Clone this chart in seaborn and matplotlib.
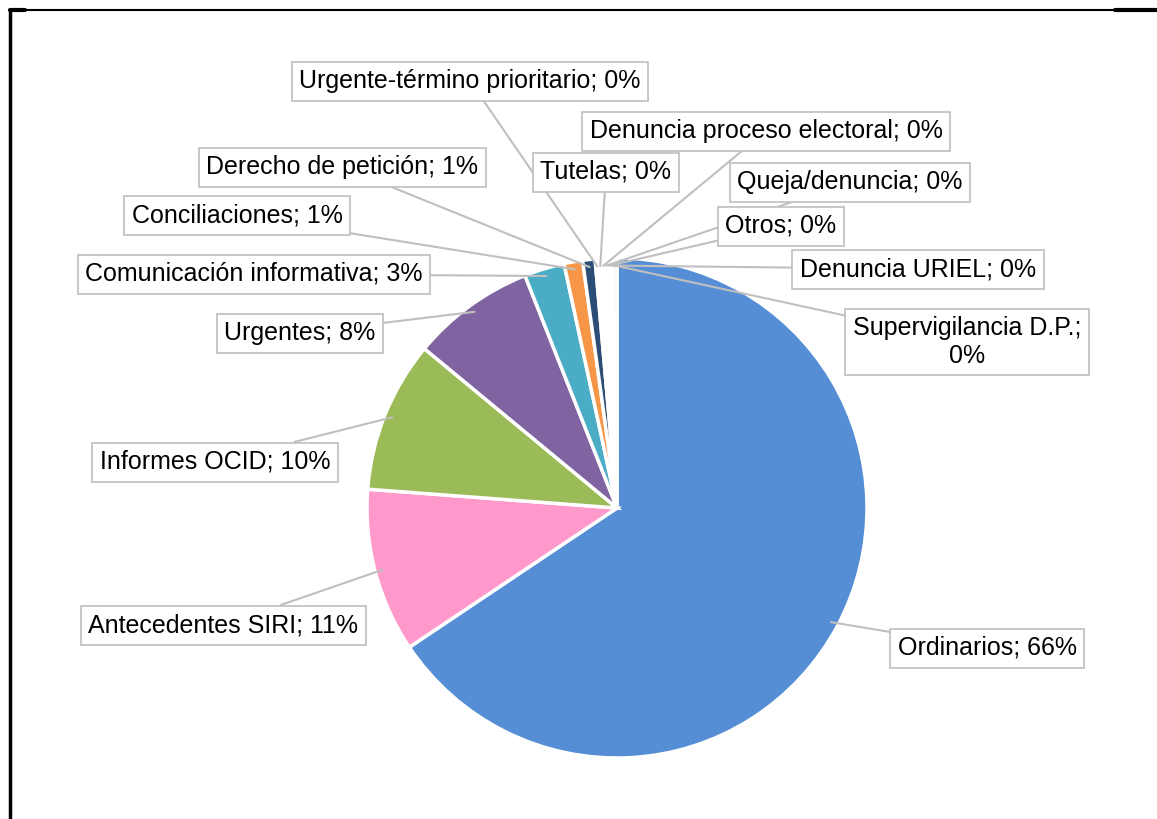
import matplotlib
matplotlib.use("Agg")
import matplotlib.pyplot as plt
import seaborn as sns
import numpy as np
from matplotlib.lines import Line2D

sns.set_theme(style="white")
plt.rcParams['font.family'] = ['Liberation Sans Narrow', 'Liberation Sans', 'DejaVu Sans']

# data (percent of total), clockwise from 12 o'clock
categories = ["Ordinarios", "Antecedentes SIRI", "Informes OCID", "Urgentes",
              "Comunicación informativa", "Conciliaciones", "Derecho de petición",
              "Urgente-término prioritario", "Tutelas", "Denuncia proceso electoral",
              "Queja/denuncia", "Otros", "Denuncia URIEL", "Supervigilancia D.P."]
values = [65.6, 10.6, 9.8, 8.0, 2.6, 1.2, 0.8, 0.2, 0.2, 0.2, 0.2, 0.2, 0.1, 0.3]
colors = ["#558ED5", "#FF99CC", "#9BBB59", "#8064A2", "#4BACC6", "#F79646", "#2C4D75",
          "#772C2A", "#EBF1DE", "#E6E0EC", "#DBEEF4", "#FDEADA", "#DCE6F2", "#F2F2F2"]

# label box centres, in pixels from top-left of the image
label_pos = [(987, 648), (223, 625), (215, 462), (300, 333), (254, 274), (237, 215),
             (342, 167), (470, 81), (606, 172), (766, 131), (850, 182), (781, 226),
             (918, 269), (967, 342)]

W, H = 1157, 819
fig = plt.figure(figsize=(W / 100, H / 100), dpi=100)
ax = fig.add_axes([0, 0, 1, 1])

cx, cy, r = 617, H - 508, 250
wedges, _ = ax.pie(values, colors=sns.color_palette(colors), startangle=90,
                   counterclock=False, center=(cx, cy), radius=r,
                   wedgeprops=dict(edgecolor="white", linewidth=2.5))
ax.set_xlim(0, W)
ax.set_ylim(0, H)
ax.set_aspect("equal")
ax.axis("off")

total = sum(values)
for w, name, v, (lx, ly) in zip(wedges, categories, values, label_pos):
    mid = np.deg2rad((w.theta1 + w.theta2) / 2)
    px = cx + r * 0.97 * np.cos(mid)
    py = cy + r * 0.97 * np.sin(mid)
    pct = round(v / total * 100)
    txt = f"{name}; {pct}%"
    if name == "Supervigilancia D.P.":
        txt = f"{name};\n{pct}%"
    ax.annotate(txt, xy=(px, py), xytext=(lx, H - ly), ha="center", va="center",
                fontsize=18, color="black", multialignment="center",
                bbox=dict(boxstyle="square,pad=0.3", fc="white", ec="#BFBFBF", lw=1.2),
                arrowprops=dict(arrowstyle="-", color="#BFBFBF", lw=1.5,
                                shrinkA=0, shrinkB=0))

# outer frame lines
fy = 1 - 10 / H
fig.add_artist(Line2D([10 / W, 1], [fy, fy], color="black", lw=1.5))
fig.add_artist(Line2D([1115 / W, 1], [fy, fy], color="black", lw=3))
fig.add_artist(Line2D([10 / W, 25 / W], [fy, fy], color="black", lw=3))
fig.add_artist(Line2D([10 / W, 10 / W], [0, fy], color="black", lw=2.5))

fig.savefig("out.png", dpi=100, facecolor="white")
